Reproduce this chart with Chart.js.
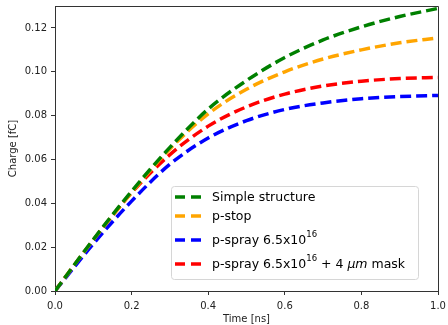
<!DOCTYPE html>
<html>
<head>
<meta charset="utf-8">
<script src="https://cdn.jsdelivr.net/npm/chart.js@4"></script>
<style>
  html, body { margin: 0; padding: 0; background: #fff; }
  #wrap { width: 448px; height: 325px; }
</style>
</head>
<body>
<div id="wrap"><canvas id="chargeChart" width="448" height="325"></canvas></div>
<script>
// Time axis (ns)
const times = [0, 0.1, 0.2, 0.3, 0.4, 0.5, 0.6, 0.7, 0.8, 0.9, 1.0];

const simpleStructure = [0, 0.0235, 0.0455, 0.0655, 0.0830, 0.0960, 0.1065, 0.1145, 0.1205, 0.1252, 0.1289];
const pStop           = [0, 0.0233, 0.0450, 0.0648, 0.0808, 0.0920, 0.1000, 0.1058, 0.1100, 0.1132, 0.1155];
const pSpray          = [0, 0.0215, 0.0410, 0.0578, 0.0698, 0.0777, 0.0828, 0.0858, 0.0877, 0.0887, 0.0892];
const pSprayMask      = [0, 0.0232, 0.0448, 0.0622, 0.0752, 0.0840, 0.0898, 0.0935, 0.0957, 0.0969, 0.0974];

const xTicks = [0, 0.2, 0.4, 0.6, 0.8, 1.0];
const yTicks = [0, 0.02, 0.04, 0.06, 0.08, 0.10, 0.12];

const seriesLabels = ['Simple structure', 'p-stop', 'p-spray 6.5x10^16', 'p-spray 6.5x10^16 + 4 μm mask'];
const seriesColors = ['#008000', '#ffa500', '#0000ff', '#ff0000'];
const seriesValues = [simpleStructure, pStop, pSpray, pSprayMask];

const FONT = "'DejaVu Sans', sans-serif";

const toPoints = vals => vals.map((v, i) => ({ x: times[i], y: v }));

// Legend drawn inside the plot (needs superscripts / italic, so done by hand)
const insideLegend = {
    id: 'insideLegend',
    afterDatasetsDraw(chart) {
        const ctx = chart.ctx;
        const box = { l: 171, t: 186, r: 418, b: 279 };
        const rows = [197, 216, 240, 264];
        ctx.save();
        ctx.beginPath();
        ctx.roundRect(box.l + 0.5, box.t + 0.5, box.r - box.l, box.b - box.t, 3);
        ctx.fillStyle = 'rgba(255,255,255,0.85)';
        ctx.fill();
        ctx.strokeStyle = '#d6d6d6';
        ctx.lineWidth = 1;
        ctx.stroke();

        chart.data.datasets.forEach((ds, i) => {
            const y = rows[i];
            ctx.beginPath();
            ctx.setLineDash([10, 6]);
            ctx.lineWidth = 3.5;
            ctx.strokeStyle = ds.borderColor;
            ctx.moveTo(175, y);
            ctx.lineTo(201, y);
            ctx.stroke();
            ctx.setLineDash([]);

            // text with ^NN superscripts and italic μm
            let x = 212;
            ctx.fillStyle = '#000';
            ctx.textBaseline = 'middle';
            ctx.textAlign = 'left';
            const parts = ds.label.split(/(\^\d+|μm)/).filter(p => p.length);
            parts.forEach(p => {
                if (p[0] === '^') {
                    ctx.font = `8.5px ${FONT}`;
                    ctx.fillText(p.slice(1), x, y - 5);
                    x += ctx.measureText(p.slice(1)).width;
                } else if (p === 'μm') {
                    ctx.font = `oblique 12.5px ${FONT}`;
                    ctx.fillText(p, x, y + 1);
                    x += ctx.measureText(p).width;
                } else {
                    ctx.font = `12.5px ${FONT}`;
                    ctx.fillText(p, x, y + 1);
                    x += ctx.measureText(p).width;
                }
            });
        });
        ctx.restore();
    }
};

// Top and right spines
const frame = {
    id: 'frame',
    afterDraw(chart) {
        const a = chart.chartArea;
        const ctx = chart.ctx;
        ctx.save();
        ctx.strokeStyle = '#333';
        ctx.lineWidth = 1;
        ctx.beginPath();
        ctx.moveTo(a.left, a.top + 0.5);
        ctx.lineTo(a.right + 0.5, a.top + 0.5);
        ctx.lineTo(a.right + 0.5, a.bottom);
        ctx.stroke();
        ctx.restore();
    }
};

const ctx = document.getElementById('chargeChart').getContext('2d');

new Chart(ctx, {
    type: 'line',
    data: {
        datasets: seriesValues.map((vals, i) => ({
            label: seriesLabels[i],
            data: toPoints(vals),
            borderColor: seriesColors[i],
            borderWidth: 3.5,
            borderDash: [11, 5],
            pointRadius: 0,
            fill: false,
            cubicInterpolationMode: 'monotone'
        }))
    },
    options: {
        responsive: false,
        animation: false,
        events: [],
        layout: { padding: { left: 0, top: 6, right: 10, bottom: 0 } },
        plugins: {
            legend: { display: false },
            tooltip: { enabled: false }
        },
        scales: {
            x: {
                type: 'linear',
                min: 0,
                max: 1,
                afterFit: s => { s.height = 34; s.paddingLeft = 0; s.paddingRight = 0; },
                afterBuildTicks: s => { s.ticks = xTicks.map(v => ({ value: v })); },
                grid: { drawOnChartArea: false, drawTicks: true, tickLength: 4, tickColor: '#333' },
                border: { color: '#333', width: 1 },
                ticks: {
                    padding: 5,
                    color: '#222',
                    font: { family: FONT, size: 10 },
                    maxRotation: 0,
                    callback: v => v.toFixed(1)
                },
                title: {
                    display: true,
                    text: 'Time [ns]',
                    color: '#222',
                    font: { family: FONT, size: 10 },
                    padding: { top: 1, bottom: 0 }
                }
            },
            y: {
                min: 0,
                max: 0.13,
                afterFit: s => { s.width = 55; s.paddingTop = 0; s.paddingBottom = 0; },
                afterBuildTicks: s => { s.ticks = yTicks.map(v => ({ value: v })); },
                grid: { drawOnChartArea: false, drawTicks: true, tickLength: 4, tickColor: '#333' },
                border: { color: '#333', width: 1 },
                ticks: {
                    padding: 4,
                    color: '#222',
                    font: { family: FONT, size: 10 },
                    callback: v => v.toFixed(2)
                },
                title: {
                    display: true,
                    text: 'Charge [fC]',
                    color: '#222',
                    font: { family: FONT, size: 10 },
                    padding: { top: 7, bottom: 4 }
                }
            }
        }
    },
    plugins: [insideLegend, frame]
});
</script>
</body>
</html>
